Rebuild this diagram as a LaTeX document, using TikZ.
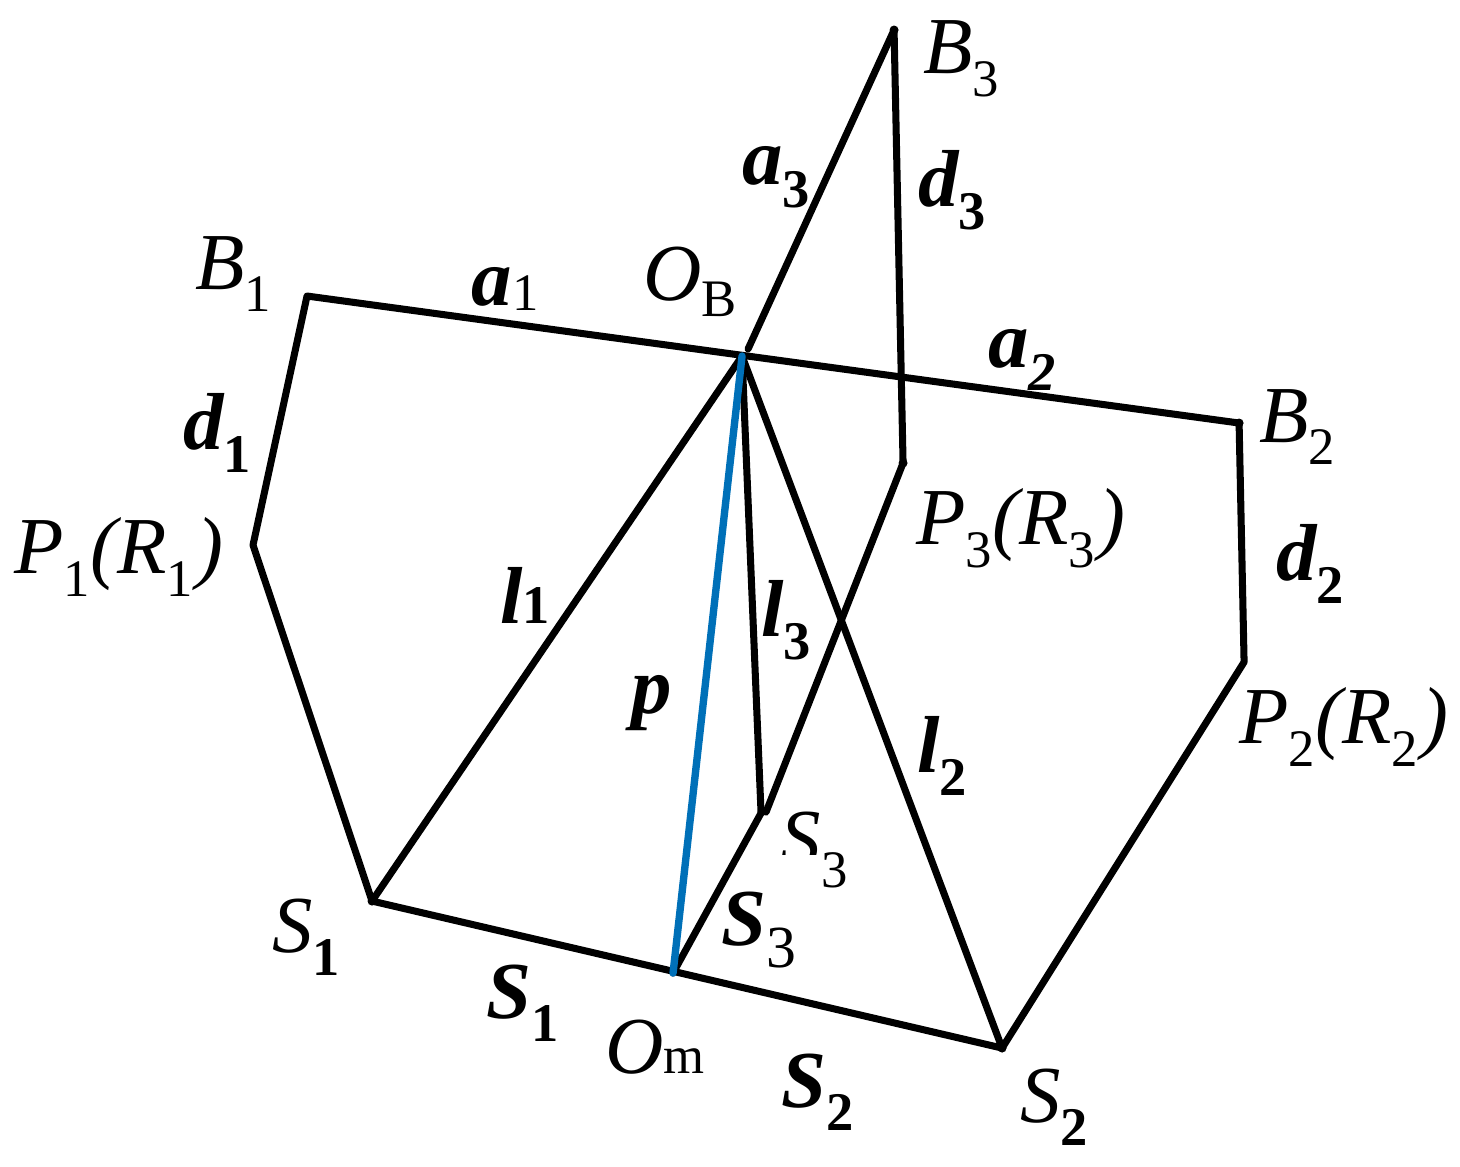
\documentclass[tikz,border=0pt]{standalone}
\usepackage{fontspec}
\setmainfont{Liberation Serif}
\definecolor{blueline}{RGB}{0,112,184}
\tikzset{
  lab/.style={inner sep=0pt,font=\fontsize{23}{25}\selectfont\itshape},
  vec/.style={inner sep=0pt,font=\fontsize{23}{25}\selectfont\bfseries\itshape},
  bar/.style={line width=2pt,black,line cap=round,line join=round},
}
\newcommand{\subn}[2][-6.5pt]{\raisebox{#1}{\fontsize{15}{16}\selectfont\mdseries\upshape #2}}
\newcommand{\subb}[2][-6.5pt]{\raisebox{#1}{\fontsize{15.5}{16}\selectfont\bfseries\upshape #2}}
\begin{document}
\begin{tikzpicture}[scale=0.1]
\useasboundingbox (0,0) rectangle (146,-116.6);
% joints
\coordinate (B1) at (30.7,-29.6);
\coordinate (B2) at (123.9,-42.3);
\coordinate (B3) at (89.4,-3);
\coordinate (P1) at (25.3,-54.5);
\coordinate (P2) at (124.4,-66.2);
\coordinate (P3) at (90.3,-46.3);
\coordinate (S1) at (37.2,-90.1);
\coordinate (S2) at (100.2,-104.8);
\coordinate (S3) at (76.1,-81.3);
\coordinate (S3b) at (76.6,-81.2);
\coordinate (OB) at (74.2,-35.6);
\coordinate (OT) at (74.8,-34.9);
\coordinate (Om) at (67.3,-97.3);
% links
\draw [bar] (P1) -- (B1) -- (B2) -- (P2) -- (S2) -- (S1) -- (P1);
\draw [bar] (B3) -- (P3) -- (S3b);
\draw [bar] (S3) -- (Om);
\draw [bar] (OT) -- (B3);
\draw [bar] (S1) -- (OB) -- (S2);
\draw [bar] (OB) -- (S3);
\draw [line width=2.1pt,blueline,line cap=round] (OB) -- (Om);
\foreach \j in {B2,B3,P3,S1,S2}
  \fill [black] (\j) circle (0.45);
% points
\node [lab] (nB1) at (23.3,-27.4) {B\subn{1}};
\node [lab] (nB2) at (129.7,-42.7) {B\subn{2}};
\node [lab] (nB3) at (96.1,-5.9) {B\subn{3}};
\node [lab] (nP1) at (11.9,-55.7) {P\subn{1}(R\subn{1}\kern1pt)};
\node [lab] (nP2) at (134.4,-72.7) {P\subn{2}(R\subn{2}\kern1pt)};
\node [lab] (nP3) at (102.1,-52.8) {P\subn{3}(R\subn{3}\kern1pt)};
\node [lab] (nS1) at (30.6,-93.7) {S\subb{1}};
\node [lab] (nS2) at (105.4,-110.7) {S\subb{2}};
\node [lab] (nS3) at (81.4,-85) {S\subn{3}};
\fill [white] (78,-85.5) rectangle (81.9,-88.2);
\node [lab] (nOB) at (69,-28.2) {O\subn[-4.5pt]{B}};
\node [lab] (nOm) at (65.5,-104.7) {O\subn[0pt]{m}};
% vectors
\node [vec] (na1) at (50.5,-28.9) {a\subn[-1.5pt]{1}};
\node [vec] (na2) at (102.2,-36) {a\subb{\itshape 2}};
\node [vec] (na3) at (77.6,-17.7) {a\subb{3}};
\node [vec] (nd1) at (21.7,-43.3) {d\subb{1}};
\node [vec] (nd2) at (131,-56.4) {d\subb{2}};
\node [vec] (nd3) at (95.2,-19) {d\subb{3}};
\node [vec] (nl1) at (52.5,-59.5) {l\subb[0pt]{1}};
\node [vec] (nl2) at (94.2,-75.6) {l\subb{2}};
\node [vec] (nl3) at (78.6,-62) {l\subb{3}};
\node [vec] (np) at (65.2,-70.3) {p};
\node [vec] (nv1) at (52.3,-100.3) {S\subb{1}};
\node [vec] (nv2) at (81.8,-109.2) {S\subb{2}};
\node [vec] (nv3) at (75.9,-93) {S\subn{\fontsize{17}{18}\selectfont 3}};
\end{tikzpicture}
\end{document}
